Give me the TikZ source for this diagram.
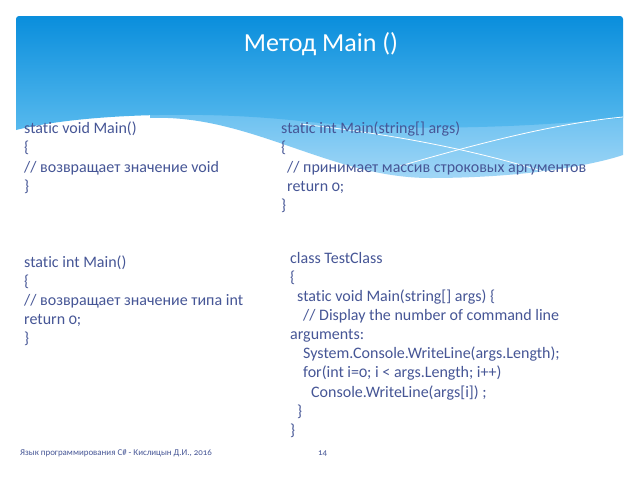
\documentclass[tikz,border=0pt]{standalone}
\usepackage{fontspec}
\setmainfont{Carlito}[Numbers=OldStyle, Ligatures=NoCommon]
\definecolor{txt}{RGB}{70,86,150}
\definecolor{bantop}{RGB}{10,142,220}
\definecolor{banbot}{RGB}{88,186,238}
\definecolor{lighttop}{RGB}{105,192,240}
\definecolor{lightbot}{RGB}{160,214,246}
\tikzset{
  code/.style={anchor=base west, inner sep=0pt, text=txt, font=\fontsize{16}{19}\selectfont},
  foot/.style={anchor=base west, inner sep=0pt, text=txt, font=\fontsize{8.9}{10}\selectfont},
  wline/.style={draw=white, line width=0.8pt}
}
\begin{document}
\begin{tikzpicture}[x=1pt,y=-1pt]
\useasboundingbox (0,0) rectangle (640,480);
\fill[white] (0,0) rectangle (640,480);
% light lower band
\shade[top color=lighttop, bottom color=lightbot]
  (150,118) .. controls (250,114) and (330,178) .. (430,178)
  .. controls (520,178) and (590,166) .. (623,155) -- (623,110) -- (150,110) -- cycle;
% main banner
\shade[top color=bantop, bottom color=banbot]
  (623,118) .. controls (520,128) and (400,132) .. (300,121)
  .. controls (200,110) and (80,114) .. (16,130)
  [rounded corners=3pt] -- (16,16) -- (623,16) -- (623,60) [sharp corners] -- cycle;
% white wave lines
\draw[wline] (400,166) .. controls (470,146) and (550,124) .. (623,117);
\draw[wline] (300,124) .. controls (380,133) and (460,146) .. (545,172);
% title
\node[text=white, font=\fontsize{26}{30}\selectfont, inner sep=0pt] (title) at (321,44) {Метод Main ()};
% left block 1
\node[code] (a1) at (24,133) {static void Main()};
\node[code] (a2) at (24,152) {\{};
\node[code] (a3) at (24,172) {// возвращает значение void};
\node[code] (a4) at (24,191) {\}};
% right block 1
\node[code] (b1) at (281,133) {static int Main(string[] args)};
\node[code] (b2) at (281,152) {\{};
\node[code] (b3) at (287,172) {// принимает массив строковых аргументов};
\node[code] (b4) at (287,191) {return 0;};
\node[code] (b5) at (281,210) {\}};
% left block 2
\node[code] (c1) at (24,267) {static int Main()};
\node[code] (c2) at (24,286) {\{};
\node[code] (c3) at (24,305) {// возвращает значение типа int};
\node[code] (c4) at (24,324) {return 0;};
\node[code] (c5) at (24,343) {\}};
% right block 2
\node[code] (d1) at (290,263) {class TestClass};
\node[code] (d2) at (290,282) {\{};
\node[code] (d3) at (297,301) {static void Main(string[] args) \{};
\node[code] (d4) at (303,320) {// Display the number of command line};
\node[code] (d5) at (290,339) {arguments:};
\node[code] (d6) at (303,358) {System.Console.WriteLine(args.Length);};
\node[code] (d7) at (303,377) {for(int i=0; i < args.Length; i++)};
\node[code] (d8) at (311,397) {Console.WriteLine(args[i]) ;};
\node[code] (d9) at (297,416) {\}};
\node[code] (d10) at (290,435) {\}};
% footer
\node[foot] (f1) at (20,455) {Язык программирования C\# - Кислицын Д.И., 2016};
\node[foot] (f2) at (318,455) {14};
\end{tikzpicture}
\end{document}
